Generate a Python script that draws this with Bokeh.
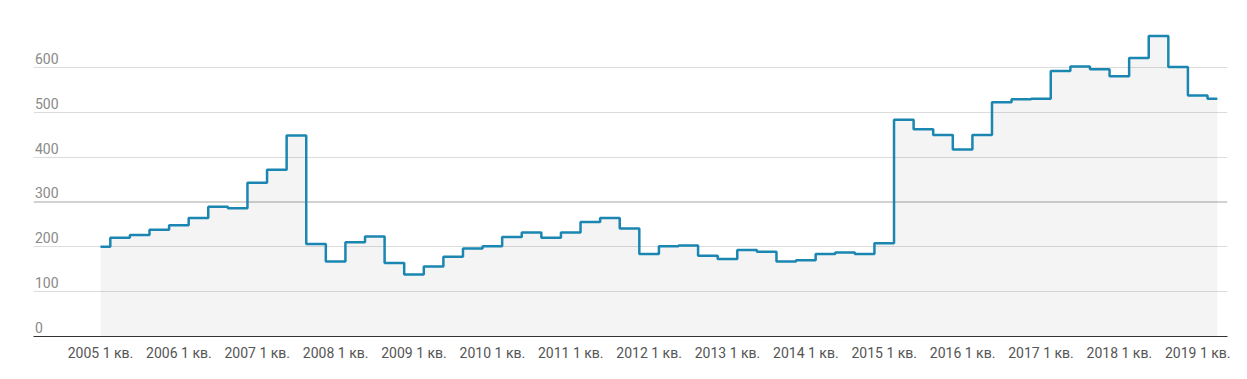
from bokeh.plotting import figure
from bokeh.models import ColumnDataSource, FixedTicker, Range1d, Span
from bokeh.core.properties import value
from bokeh.embed import file_html
from bokeh.resources import INLINE

# Quarterly data, 2005 Q1 .. 2019 Q2
years = [2005, 2006, 2007, 2008, 2009, 2010, 2011, 2012, 2013, 2014,
         2015, 2016, 2017, 2018, 2019]
values = [
    200, 220, 226, 238,   # 2005
    248, 264, 289, 286,   # 2006
    343, 372, 448, 206,   # 2007
    167, 210, 223, 164,   # 2008
    138, 156, 178, 196,   # 2009
    201, 222, 232, 220,   # 2010
    232, 255, 264, 241,   # 2011
    184, 201, 203, 180,   # 2012
    173, 193, 189, 167,   # 2013
    170, 184, 187, 184,   # 2014
    208, 483, 462, 449,   # 2015
    417, 449, 522, 529,   # 2016
    530, 592, 602, 596,   # 2017
    580, 621, 670, 601,   # 2018
    537, 530,             # 2019
]
y_ticks = [0, 100, 200, 300, 400, 500, 600]
x_tick_labels = {y: f"{y} 1 кв." for y in years}

xs = [years[0] + i / 4 for i in range(len(values))]
src = ColumnDataSource(dict(x=xs, y=values, y0=[0] * len(values)))

FONT = "Roboto"

p = figure(width=1231, height=363, output_backend="svg", toolbar_location=None,
           x_range=Range1d(2004.145, 2019.38), y_range=Range1d(0, 700),
           min_border_left=33, min_border_right=4, min_border_top=22,
           min_border_bottom=26)
p.outline_line_color = None
p.background_fill_color = "white"

# grid
p.xgrid.visible = False
p.ygrid.ticker = FixedTicker(ticks=y_ticks[1:])
p.ygrid.grid_line_color = "#dcdcdc"
p.ygrid.grid_line_width = 1
p.add_layout(Span(location=300, dimension="width", line_color="#d2d2d2",
                  line_width=2, level="underlay"))

# fill (translucent so grid shows through) + step line
p.varea_step(x="x", y1="y0", y2="y", source=src, step_mode="center",
             fill_color="#000000", fill_alpha=0.045)
p.step(x="x", y="y", source=src, mode="center", line_color="#1a86b1",
       line_width=2.5)

# y axis hidden; labels drawn as text above grid lines
p.yaxis.visible = False
ysrc = ColumnDataSource(dict(x=[2004.145] * len(y_ticks), y=y_ticks,
                             t=[str(v) for v in y_ticks]))
p.text(x="x", y="y", text="t", source=ysrc, x_offset=1.5, y_offset=-9,
       text_font=value(FONT), text_font_size="14px", text_color="#8a8a8a",
       text_baseline="alphabetic", text_align="left")

# x axis
ax = p.xaxis[0]
ax.ticker = FixedTicker(ticks=years)
ax.major_label_overrides = x_tick_labels
ax.major_label_text_font = FONT
ax.major_label_text_font_size = "14px"
ax.major_label_text_color = "#555555"
ax.major_tick_line_color = None
ax.minor_tick_line_color = None
ax.axis_line_color = "#333333"
ax.axis_line_width = 1
ax.major_label_standoff = 2

open("out.html", "w").write(file_html(p, INLINE))
